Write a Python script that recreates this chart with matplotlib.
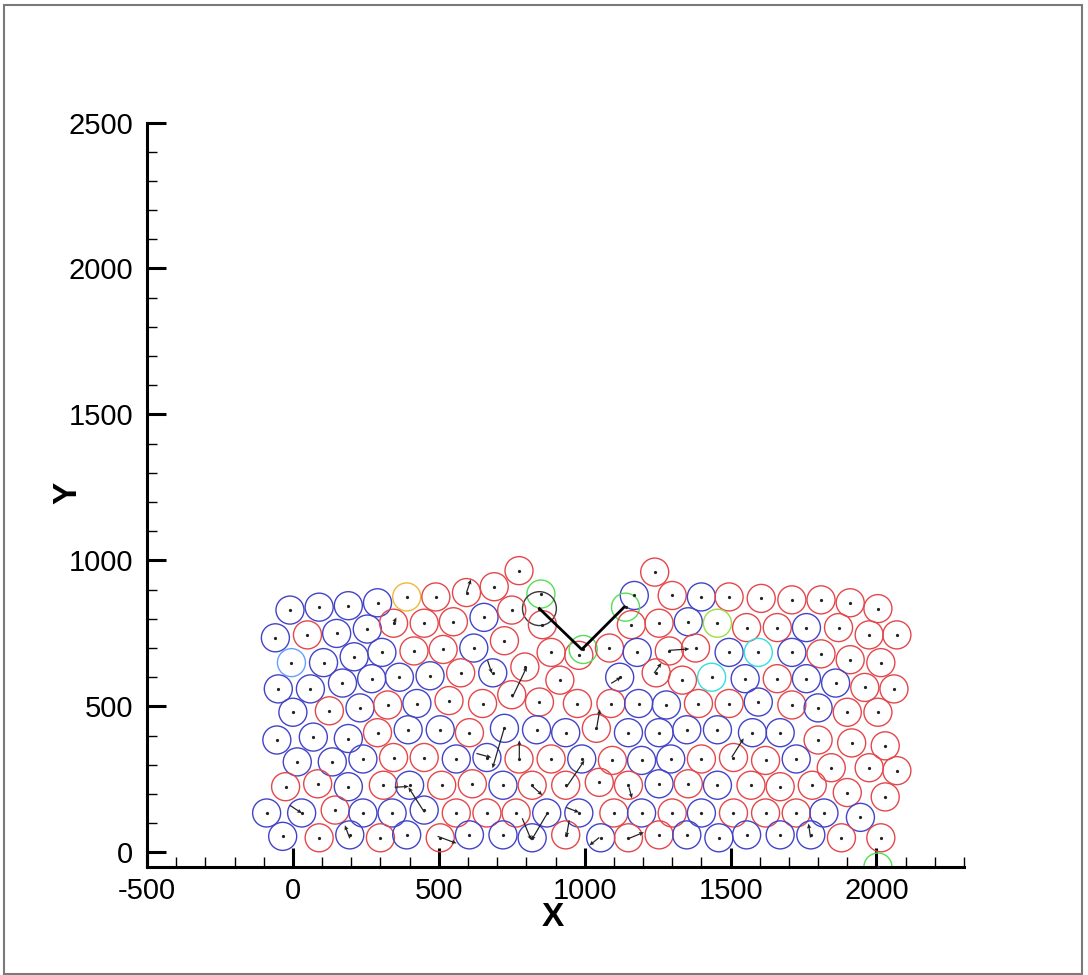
import matplotlib
matplotlib.use("Agg")
import matplotlib.pyplot as plt
from matplotlib.patches import Circle, Rectangle
from matplotlib.ticker import MultipleLocator

plt.rcParams['font.family'] = ['Liberation Sans', 'DejaVu Sans']
plt.rcParams['axes.unicode_minus'] = False

# ---- particle centres (data units) and kinds, row by row from top ----
particle_x = [
    775, 1240, -10, 90, 190, 290, 390, 490, 595, 690, 850, 845, 1170, 1140, 1300, 1400, 1495, 1605, 1710, 1810, 1910, 2005,
    -60, 50, 150, 255, 345, 450, 550, 655, 750, 855, 1160, 1255, 1355, 1455, 1555, 1660, 1760, 1870, 1975, 2070,
    -5, 105, 210, 305, 415, 515, 620, 725, 885, 980, 995, 1085, 1180, 1290, 1380, 1495, 1595, 1710, 1810, 1910, 2015,
    -50, 60, 170, 270, 365, 470, 575, 685, 795, 915, 1120, 1245, 1335, 1435, 1550, 1660, 1760, 1860, 1960, 2060,
    0, 125, 230, 325, 425, 535, 650, 750, 845, 975, 1090, 1185, 1280, 1390, 1495, 1595, 1710, 1800, 1900, 2005,
    -55, 70, 190, 290, 395, 505, 605, 725, 835, 935, 1040, 1150, 1255, 1350, 1455, 1575, 1670, 1800, 1915, 2030,
    15, 135, 240, 345, 450, 560, 665, 775, 885, 990, 1095, 1195, 1295, 1400, 1510, 1620, 1725, 1845, 1975, 2070,
    -25, 85, 190, 310, 400, 510, 615, 720, 820, 935, 1050, 1150, 1255, 1355, 1455, 1570, 1670, 1780, 1900, 2030,
    -90, 30, 145, 240, 340, 450, 560, 665, 765, 870, 980, 1100, 1195, 1300, 1400, 1510, 1620, 1725, 1820, 1945,
    -35, 90, 195, 300, 390, 505, 605, 720, 820, 935, 1055, 1150, 1255, 1350, 1460, 1555, 1670, 1775, 1880, 2015, 2005,
]
particle_y = [
    965, 960, 830, 840, 845, 855, 875, 875, 890, 910, 885, 835, 880, 840, 880, 875, 875, 870, 865, 865, 855, 835,
    735, 745, 750, 765, 785, 785, 790, 805, 830, 780, 780, 785, 790, 785, 770, 770, 770, 770, 745, 745,
    650, 650, 670, 685, 690, 695, 700, 725, 685, 675, 695, 700, 685, 690, 700, 685, 685, 685, 680, 660, 650,
    560, 560, 580, 595, 600, 605, 615, 615, 635, 590, 600, 615, 590, 600, 595, 595, 595, 580, 565, 560,
    480, 485, 495, 505, 510, 520, 510, 540, 515, 510, 510, 510, 505, 510, 510, 515, 505, 495, 480, 480,
    385, 395, 390, 410, 420, 420, 410, 425, 420, 410, 425, 410, 410, 420, 420, 410, 410, 385, 375, 365,
    310, 310, 320, 325, 325, 320, 325, 320, 320, 320, 315, 315, 320, 320, 325, 315, 320, 290, 290, 280,
    225, 235, 225, 230, 230, 230, 235, 230, 230, 230, 240, 230, 235, 235, 230, 230, 225, 230, 205, 190,
    135, 135, 145, 135, 135, 145, 135, 135, 135, 135, 135, 135, 135, 135, 135, 135, 135, 135, 135, 120,
    55, 50, 60, 50, 60, 50, 60, 60, 50, 60, 50, 50, 60, 60, 50, 60, 60, 60, 50, 50, -50,
]
particle_kind = (
    "rrbbbbyrrrgkbgrbrrrrrr"
    "brbbrrrbrrrrbvrrbrrr"
    "lbbbrrbrrrgrbrrbcbrrr"
    "bbbbbbrbrrbrrcbrbbrr"
    "brbrbrrrrrrbbrrbrbrr"
    "bbbrbbrbbbrbbbbbbrrr"
    "bbbrrbbrrbrbbrrrbrrr"
    "rrbrbrrbrrrrbrbrrrrr"
    "bbrbbbrrrbbrbrbrrrbb"
    "brbrbrbbbrbrrbbbbbrrg"
)

# ---- velocity vectors (start point and components, data units) ----
arrow_x0 = [595, 752, 667, 1289, 1238, 1091, 725, 776, 937, 817, 1152, 786, 872, 937,
            947, 1050, 1152, 1504, 1774, -10, 195, 496, 349, 451, 629, 1040, 345]
arrow_y0 = [890, 531, 658, 692, 614, 579, 428, 322, 223, 230, 223, 117, 134, 154,
            110, 51, 48, 326, 51, 161, 48, 55, 223, 137, 339, 420, 785]
arrow_dx = [15, 50, 15, 70, 25, 34, -41, 0, 62, 38, 10, 31, -55, 44,
            -10, -34, 51, 41, -7, 41, -17, 65, 48, -55, 51, 12, 10]
arrow_dy = [45, 105, -45, 5, 35, 21, -140, 62, 92, -34, -38, -75, -93, -17,
            -58, -27, 21, 65, 48, -27, 45, -24, 3, 86, -14, 70, 20]

# ---- V-shaped tool ----
tool_x = [845, 990, 1135]
tool_y = [835, 695, 840]

kind_colors = {'r': '#e4474b', 'b': '#4343c8', 'g': '#55dd55', 'k': '#383838',
               'y': '#f0b83a', 'v': '#9ade44', 'c': '#35dede', 'l': '#66a0ff'}
kind_radius = {'k': 58}

W, H = 1088, 975
fig = plt.figure(figsize=(W / 100, H / 100), dpi=100)
ax = fig.add_axes([147 / W, 108 / H, 817 / W, 744.5 / H])
ax.set_xlim(-500, 2300)
ax.set_ylim(-50, 2500)

for x, y, k in zip(particle_x, particle_y, particle_kind):
    ax.add_patch(Circle((x, y), kind_radius.get(k, 48), fill=False,
                        edgecolor=kind_colors[k], linewidth=1.0, zorder=2))

ax.plot(particle_x, particle_y, linestyle='none', marker='o', markersize=1.3,
        color='#222222', zorder=3)
ax.quiver(arrow_x0, arrow_y0, arrow_dx, arrow_dy, angles='xy', scale_units='xy',
          scale=1, color='#222222', width=0.0015, headwidth=3.5, headlength=4,
          headaxislength=3.5, zorder=4)
ax.plot(tool_x, tool_y, color='black', linewidth=2.0, zorder=5)

for s in ['top', 'right']:
    ax.spines[s].set_visible(False)
for s in ['left', 'bottom']:
    ax.spines[s].set_linewidth(2.2)

ax.xaxis.set_major_locator(MultipleLocator(500))
ax.xaxis.set_minor_locator(MultipleLocator(100))
ax.yaxis.set_major_locator(MultipleLocator(500))
ax.yaxis.set_minor_locator(MultipleLocator(100))
ax.tick_params(which='major', direction='in', length=14, width=2.2, labelsize=21)
ax.tick_params(which='minor', direction='in', length=7, width=1.0)
ax.tick_params(axis='x', which='major', pad=7)
ax.tick_params(axis='y', which='major', pad=10)

fig.text(553 / W, 1 - 918 / H, 'X', fontsize=24, fontweight='bold', ha='center', va='center')
fig.text(68 / W, 1 - 493 / H, 'Y', fontsize=24, fontweight='bold', ha='center', va='center', rotation=90)

fig.add_artist(Rectangle((3.5 / W, 1.5 / H), (1082 - 3.5) / W, (970 - 1.5) / H,
                         transform=fig.transFigure, fill=False, edgecolor='#7a7a7a', linewidth=1.5))

fig.savefig('out.png', dpi=100)
